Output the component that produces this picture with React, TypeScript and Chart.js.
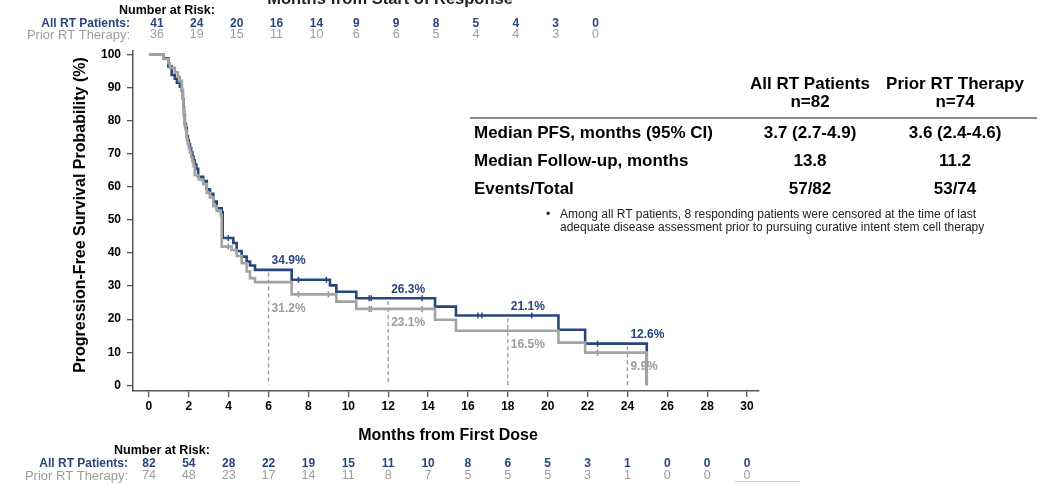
import React, { useEffect, useRef } from 'react';
import { Chart, registerables } from 'chart.js';
Chart.register(...registerables);

// ---- Data ----
const allRTTimes = [0, 0.72, 0.97, 1.14, 1.3, 1.4, 1.55, 1.65, 1.7, 1.73, 1.76, 1.8, 1.85, 1.9, 1.95, 2.0, 2.06, 2.12, 2.18, 2.24, 2.3, 2.38, 2.47, 2.72, 2.9, 3.06, 3.23, 3.4, 3.65, 3.7, 4.23, 4.4, 4.65, 4.9, 5.07, 5.32, 7.16, 9.08, 9.4, 10.4, 14.35, 15.4, 20.54, 21.88, 24.97];
const allRTSurv = [100, 98.8, 96.3, 93.8, 92.6, 91.4, 90.2, 89.0, 86.5, 84.0, 81.5, 79.0, 77.8, 75.3, 74.1, 72.8, 71.6, 70.4, 69.1, 67.9, 66.7, 65.4, 63.0, 61.7, 59.2, 57.9, 55.5, 53.5, 52.3, 44.5, 43.0, 40.6, 38.9, 37.4, 36.2, 34.9, 31.9, 30.2, 28.3, 26.3, 23.8, 21.1, 16.8, 12.6, 0];

const priorTimes = [0, 0.72, 0.97, 1.05, 1.3, 1.45, 1.55, 1.65, 1.7, 1.73, 1.76, 1.8, 1.85, 1.9, 1.95, 2.0, 2.06, 2.12, 2.18, 2.24, 2.3, 2.5, 2.72, 2.9, 3.06, 3.23, 3.4, 3.6, 3.65, 4.15, 4.4, 4.65, 4.9, 5.07, 5.32, 7.16, 9.4, 10.4, 14.35, 15.4, 20.54, 21.88, 24.97];
const priorSurv = [100, 98.6, 97.3, 95.9, 94.6, 93.2, 91.9, 89.2, 86.5, 83.8, 81.1, 78.4, 77.0, 74.3, 73.0, 71.6, 70.3, 68.9, 67.6, 66.2, 63.5, 62.2, 60.8, 58.1, 56.8, 54.1, 52.7, 51.4, 41.9, 40.9, 39.1, 36.9, 34.4, 32.4, 31.2, 27.5, 25.3, 23.1, 19.8, 16.5, 12.9, 9.9, 0];

const allRTCensorTimes = [3.98, 7.5, 8.9, 11.05, 11.15, 13.7, 16.5, 16.7, 19.2, 22.5];
const priorCensorTimes = [3.98, 7.5, 9.0, 11.05, 11.15, 13.7, 22.5];

const landmarkMonths = [6, 12, 18, 24];
const allRTLandmark = [34.9, 26.3, 21.1, 12.6];
const priorLandmark = [31.2, 23.1, 16.5, 9.9];

const xTicks = [0, 2, 4, 6, 8, 10, 12, 14, 16, 18, 20, 22, 24, 26, 28, 30];
const yTicks = [0, 10, 20, 30, 40, 50, 60, 70, 80, 90, 100];

const riskResponseMonths = [0, 2, 4, 6, 8, 10, 12, 14, 16, 18, 20, 22];
const allRTRiskResponse = [41, 24, 20, 16, 14, 9, 9, 8, 5, 4, 3, 0];
const priorRiskResponse = [36, 19, 15, 11, 10, 6, 6, 5, 4, 4, 3, 0];
const allRTRiskDose = [82, 54, 28, 22, 19, 15, 11, 10, 8, 6, 5, 3, 1, 0, 0, 0];
const priorRiskDose = [74, 48, 23, 17, 14, 11, 8, 7, 5, 5, 5, 3, 1, 0, 0, 0];

const tableColumns = ['All RT Patients', 'Prior RT Therapy'];
const tableColumnN = ['n=82', 'n=74'];
const tableRows = ['Median PFS, months (95% CI)', 'Median Follow-up, months', 'Events/Total'];
const tableAllRT = ['3.7 (2.7-4.9)', '13.8', '57/82'];
const tablePrior = ['3.6 (2.4-4.6)', '11.2', '53/74'];
const footnoteLines = [
  'Among all RT patients, 8 responding patients were censored at the time of last',
  'adequate disease assessment prior to pursuing curative intent stem cell therapy',
];

const BLUE = '#28467c';
const GRAY = '#a3a3a3';
const GRAY_TEXT = '#9c9c9c';
const FONT = '"Liberation Sans", Arial, Helvetica, sans-serif';

function survAt(times: number[], surv: number[], t: number) {
  let v = surv[0];
  for (let i = 0; i < times.length; i++) if (times[i] <= t) v = surv[i];
  return v;
}
function minSurvIn(times: number[], surv: number[], a: number, b: number) {
  let m = survAt(times, surv, a);
  for (let i = 0; i < times.length; i++) {
    if (times[i] > a && times[i] <= b && surv[i] > 0) m = Math.min(m, surv[i]);
  }
  return m;
}

const overlayPlugin = {
  id: 'overlay',
  afterDraw(chart: any) {
    const ctx = chart.ctx as CanvasRenderingContext2D;
    const xs = chart.scales.x;
    const ys = chart.scales.y;
    ctx.save();

    // partial top title
    ctx.fillStyle = '#222';
    ctx.font = `bold 16.5px ${FONT}`;
    ctx.textAlign = 'center';
    ctx.textBaseline = 'alphabetic';
    ctx.fillText('Months from Start of Response', 390, 4);

    // top number at risk
    ctx.textBaseline = 'middle';
    ctx.fillStyle = '#000';
    ctx.font = `bold 12.5px ${FONT}`;
    ctx.textAlign = 'center';
    ctx.fillText('Number at Risk:', 167, 10.5);
    ctx.textAlign = 'right';
    ctx.fillStyle = BLUE;
    ctx.font = `bold 12px ${FONT}`;
    ctx.fillText('All RT Patients:', 130, 24);
    ctx.fillStyle = GRAY_TEXT;
    ctx.font = `13px ${FONT}`;
    ctx.fillText('Prior RT Therapy:', 130, 35);
    ctx.textAlign = 'center';
    riskResponseMonths.forEach((m, i) => {
      const px = xs.getPixelForValue(m + 0.4);
      ctx.fillStyle = BLUE;
      ctx.font = `bold 12px ${FONT}`;
      ctx.fillText(String(allRTRiskResponse[i]), px, 24);
      ctx.fillStyle = GRAY_TEXT;
      ctx.font = `12.5px ${FONT}`;
      ctx.fillText(String(priorRiskResponse[i]), px, 35);
    });

    // bottom number at risk
    ctx.fillStyle = '#000';
    ctx.font = `bold 12.5px ${FONT}`;
    ctx.textAlign = 'center';
    ctx.fillText('Number at Risk:', 162, 451);
    ctx.textAlign = 'right';
    ctx.fillStyle = BLUE;
    ctx.font = `bold 12px ${FONT}`;
    ctx.fillText('All RT Patients:', 128, 464);
    ctx.fillStyle = GRAY_TEXT;
    ctx.font = `13px ${FONT}`;
    ctx.fillText('Prior RT Therapy:', 128, 476);
    ctx.textAlign = 'center';
    xTicks.forEach((m, i) => {
      const px = xs.getPixelForValue(m);
      ctx.fillStyle = BLUE;
      ctx.font = `bold 12px ${FONT}`;
      ctx.fillText(String(allRTRiskDose[i]), px, 464);
      ctx.fillStyle = GRAY_TEXT;
      ctx.font = `12.5px ${FONT}`;
      ctx.fillText(String(priorRiskDose[i]), px, 476);
    });
    ctx.strokeStyle = '#cfcfcf';
    ctx.lineWidth = 1;
    ctx.beginPath();
    ctx.moveTo(735, 481.5);
    ctx.lineTo(800, 481.5);
    ctx.stroke();

    // axis titles
    ctx.fillStyle = '#000';
    ctx.font = `bold 16px ${FONT}`;
    ctx.textAlign = 'center';
    ctx.fillText('Months from First Dose', 448, 436);
    ctx.save();
    ctx.translate(81, 215);
    ctx.rotate(-Math.PI / 2);
    ctx.fillText('Progression-Free Survival Probability (%)', 0, 0);
    ctx.restore();

    // landmark labels
    ctx.textAlign = 'left';
    ctx.font = `bold 12px ${FONT}`;
    landmarkMonths.forEach((m, i) => {
      const px = xs.getPixelForValue(m) + 3;
      ctx.fillStyle = BLUE;
      ctx.fillText(`${allRTLandmark[i].toFixed(1)}%`, px, ys.getPixelForValue(allRTLandmark[i]) - 9);
      const low = minSurvIn(priorTimes, priorSurv, m, m + 1.8);
      ctx.fillStyle = GRAY_TEXT;
      ctx.fillText(`${priorLandmark[i].toFixed(1)}%`, px, ys.getPixelForValue(low) + 14);
    });

    // summary table
    ctx.fillStyle = '#000';
    ctx.font = `bold 17px ${FONT}`;
    const colX = [810, 955];
    ctx.textAlign = 'center';
    tableColumns.forEach((c, i) => {
      ctx.fillText(c, colX[i], 84);
      ctx.fillText(tableColumnN[i], colX[i], 102);
    });
    ctx.strokeStyle = '#8a8a8a';
    ctx.lineWidth = 2;
    ctx.beginPath();
    ctx.moveTo(470, 118);
    ctx.lineTo(1037, 118);
    ctx.stroke();
    const rowY = [133, 161, 189];
    tableRows.forEach((r, i) => {
      ctx.textAlign = 'left';
      ctx.fillText(r, 474, rowY[i]);
      ctx.textAlign = 'center';
      ctx.fillText(tableAllRT[i], colX[0], rowY[i]);
      ctx.fillText(tablePrior[i], colX[1], rowY[i]);
    });
    ctx.font = `12px ${FONT}`;
    ctx.fillStyle = '#222';
    ctx.textAlign = 'left';
    ctx.fillText('\u2022', 546, 215);
    footnoteLines.forEach((l, i) => ctx.fillText(l, 560, 215 + i * 12.5));

    ctx.restore();
  },
};

export default function App() {
  const ref = useRef<HTMLCanvasElement>(null);
  useEffect(() => {
    document.body.style.margin = '0';
    const canvas = ref.current!;
    const curve = (times: number[], surv: number[]) => times.map((t, i) => ({ x: t, y: surv[i] }));
    const censor = (ct: number[], times: number[], surv: number[]) => ct.map((t) => ({ x: t, y: survAt(times, surv, t) }));
    const datasets: any[] = [
      {
        data: curve(priorTimes, priorSurv),
        borderColor: GRAY,
        borderWidth: 2.6,
        stepped: 'before',
        pointRadius: 0,
        fill: false,
      },
      {
        data: censor(priorCensorTimes, priorTimes, priorSurv),
        showLine: false,
        pointStyle: 'line',
        rotation: 90,
        pointRadius: 3,
        pointBorderWidth: 1.5,
        borderColor: '#8d8d8d',
        backgroundColor: '#8d8d8d',
      },
      {
        data: curve(allRTTimes, allRTSurv),
        borderColor: BLUE,
        borderWidth: 2.6,
        stepped: 'before',
        pointRadius: 0,
        fill: false,
      },
      {
        data: censor(allRTCensorTimes, allRTTimes, allRTSurv),
        showLine: false,
        pointStyle: 'line',
        rotation: 90,
        pointRadius: 3,
        pointBorderWidth: 1.5,
        borderColor: BLUE,
        backgroundColor: BLUE,
      },
      ...landmarkMonths.map((m, i) => ({
        data: [{ x: m, y: allRTLandmark[i] - 0.8 }, { x: m, y: 0 }],
        borderColor: '#9a9a9a',
        borderWidth: 1.3,
        borderDash: [4, 3],
        pointRadius: 0,
        fill: false,
      })),
    ];
    const chart = new Chart(canvas, {
      type: 'line',
      data: { datasets },
      options: {
        animation: false,
        responsive: false,
        devicePixelRatio: 1,
        layout: { padding: { top: 51, right: 301, left: 0, bottom: 0 } },
        plugins: { legend: { display: false }, tooltip: { enabled: false } },
        scales: {
          x: {
            type: 'linear',
            min: -0.8,
            max: 30.6,
            afterBuildTicks: (axis: any) => {
              axis.ticks = xTicks.map((v) => ({ value: v }));
            },
            afterFit: (s: any) => {
              s.height = 94;
            },
            grid: { drawOnChartArea: false, drawTicks: true, tickLength: 6, color: '#555', lineWidth: 1.3 },
            border: { display: true, color: '#555', width: 1.5 },
            ticks: { color: '#000', font: { family: FONT, size: 12, weight: 'bold' }, padding: 2, maxRotation: 0, autoSkip: false },
          },
          y: {
            type: 'linear',
            min: -1.7,
            max: 101,
            afterBuildTicks: (axis: any) => {
              axis.ticks = yTicks.map((v) => ({ value: v }));
            },
            afterFit: (s: any) => {
              s.width = 133;
            },
            grid: { drawOnChartArea: false, drawTicks: true, tickLength: 6, color: '#555', lineWidth: 1.3 },
            border: { display: true, color: '#555', width: 1.5 },
            ticks: { color: '#000', font: { family: FONT, size: 12, weight: 'bold' }, padding: 6, autoSkip: false },
          },
        },
      },
      plugins: [overlayPlugin],
    } as any);
    return () => chart.destroy();
  }, []);
  return (
    <div style={{ position: 'absolute', left: 0, top: 0, width: 1060, height: 485, background: '#fff' }}>
      <canvas ref={ref} width={1060} height={485} style={{ display: 'block', width: 1060, height: 485 }} />
    </div>
  );
}
